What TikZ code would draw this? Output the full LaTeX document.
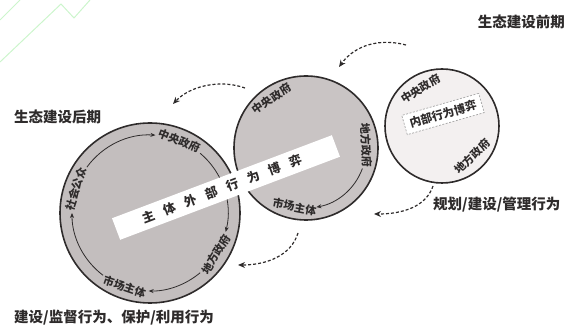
\documentclass[tikz,border=0pt]{standalone}
\usepackage{fontspec}
\setmainfont{Noto Sans CJK SC}
\usetikzlibrary{arrows.meta}
\definecolor{leftgray}{HTML}{C3BEBE}
\definecolor{midgray}{HTML}{C9C4C4}
\definecolor{rightgray}{HTML}{F3F0F0}
\definecolor{inkgray}{HTML}{2E2B2B}
\definecolor{wmgreen}{HTML}{CCF5CC}
\tikzset{
  disk/.style={circle, draw=inkgray, line width=1.6pt, inner sep=0pt},
  ringtxt/.style={font=\fontsize{11}{11}\selectfont\bfseries, inner sep=0pt, text=inkgray},
  bandtxt/.style={font=\fontsize{12.5}{12.5}\selectfont\bfseries, inner sep=0pt, text=inkgray},
  lbl/.style={font=\fontsize{14.5}{14.5}\selectfont\bfseries, inner sep=0pt, text=inkgray},
  flow/.style={line width=1.2pt, dash pattern=on 3pt off 2pt, inkgray, -{Stealth[length=7pt,width=6pt]}},
  ringarr/.style={line width=0.8pt, inkgray, -{Stealth[length=5pt,width=4pt]}},
  innerbox/.style={draw=gray!70, dash pattern=on 2pt off 1.5pt, line width=0.7pt, fill=white, inner sep=0pt},
}
\begin{document}
\begin{tikzpicture}[x=1pt,y=1pt]
\useasboundingbox (0,0) rectangle (576,329);
% watermark lines
\draw[wmgreen, line width=1pt] (0,309) -- (20,329);
\draw[wmgreen, line width=1pt] (0,267) -- (61,325) -- (74,311) -- (90,329);

% circles
\node[disk, fill=midgray, minimum size=144pt] (M) at (306,181) {};
\node[disk, fill=leftgray, minimum size=180pt] (L) at (150,116) {};
\node[disk, fill=rightgray, minimum size=114pt] (R) at (442,203) {};

% left ring arrows
\draw[ringarr] ([shift={(144:78)}]L.center) arc[start angle=144, end angle=86, radius=78];
\draw[ringarr] ([shift={(50:78)}]L.center) arc[start angle=50, end angle=-14, radius=78];
\draw[ringarr] ([shift={(-50:78)}]L.center) arc[start angle=-50, end angle=-91, radius=78];
\draw[ringarr] ([shift={(-127:78)}]L.center) arc[start angle=-127, end angle=-180, radius=78];
% middle ring arrow
\draw[ringarr] ([shift={(-20:60)}]M.center) arc[start angle=-20, end angle=-80, radius=60];

% band
\node[fill=white, minimum width=235pt, minimum height=23pt, inner sep=0pt, rotate=20.7] (band) at (226,141.5) {};
\foreach \c [count=\i] in {主,体,外,部,行,为,博,弈}
  \node[bandtxt, rotate=20.7] at ([shift={(20.7:{-83+(\i-1)*22.5})}]band.center) {\c};

% left ring texts
\node[ringtxt, rotate=-22] at ([shift={(68:78)}]L.center) {中央政府};
\node[ringtxt, rotate=58] at ([shift={(-32:78)}]L.center) {地方政府};
\node[ringtxt, rotate=-19] at ([shift={(-109:78)}]L.center) {市场主体};
\node[ringtxt, rotate=72] at ([shift={(162:78)}]L.center) {社会公众};

% middle ring texts
\node[ringtxt, rotate=35] at ([shift={(125:60)}]M.center) {中央政府};
\node[ringtxt, rotate=-87] at ([shift={(3:60)}]M.center) {地方政府};
\node[ringtxt, rotate=-11] at ([shift={(-101:60)}]M.center) {市场主体};

% right circle texts
\node[ringtxt, rotate=32] at ([shift={(120:43)}]R.center) {中央政府};
\node[ringtxt, rotate=45] at ([shift={(-45:43)}]R.center) {地方政府};
\node[innerbox, rotate=16, minimum width=80pt, minimum height=20pt, font=\fontsize{11.5}{11.5}\selectfont\bfseries, text=inkgray] (box) at (443,215) {内部行为博弈};

% labels
\node[lbl, anchor=east] (pre) at (565,307) {生态建设前期};
\node[lbl, anchor=west] (post) at (14,212) {生态建设后期};
\node[lbl, anchor=west] (act1) at (433,124) {规划/建设/管理行为};
\node[lbl, anchor=west] (act2) at (14,11) {建设/监督行为、保护/利用行为};

% flow arrows
\coordinate (t1s) at (406,284);
\coordinate (t1e) at (339,262);
\coordinate (t2s) at (245,241);
\coordinate (t2e) at (173,225);
\coordinate (b1s) at (433,143);
\coordinate (b1e) at (374,115);
\coordinate (b2s) at (298,96);
\coordinate (b2e) at (238,64);
\draw[flow] (t1s) .. controls (380,291) and (355,284) .. (t1e);
\draw[flow] (t2s) .. controls (220,250) and (190,243) .. (t2e);
\draw[flow] (b1s) .. controls (426,122) and (402,115) .. (b1e);
\draw[flow] (b2s) .. controls (291,73) and (266,64) .. (b2e);
\end{tikzpicture}
\end{document}
